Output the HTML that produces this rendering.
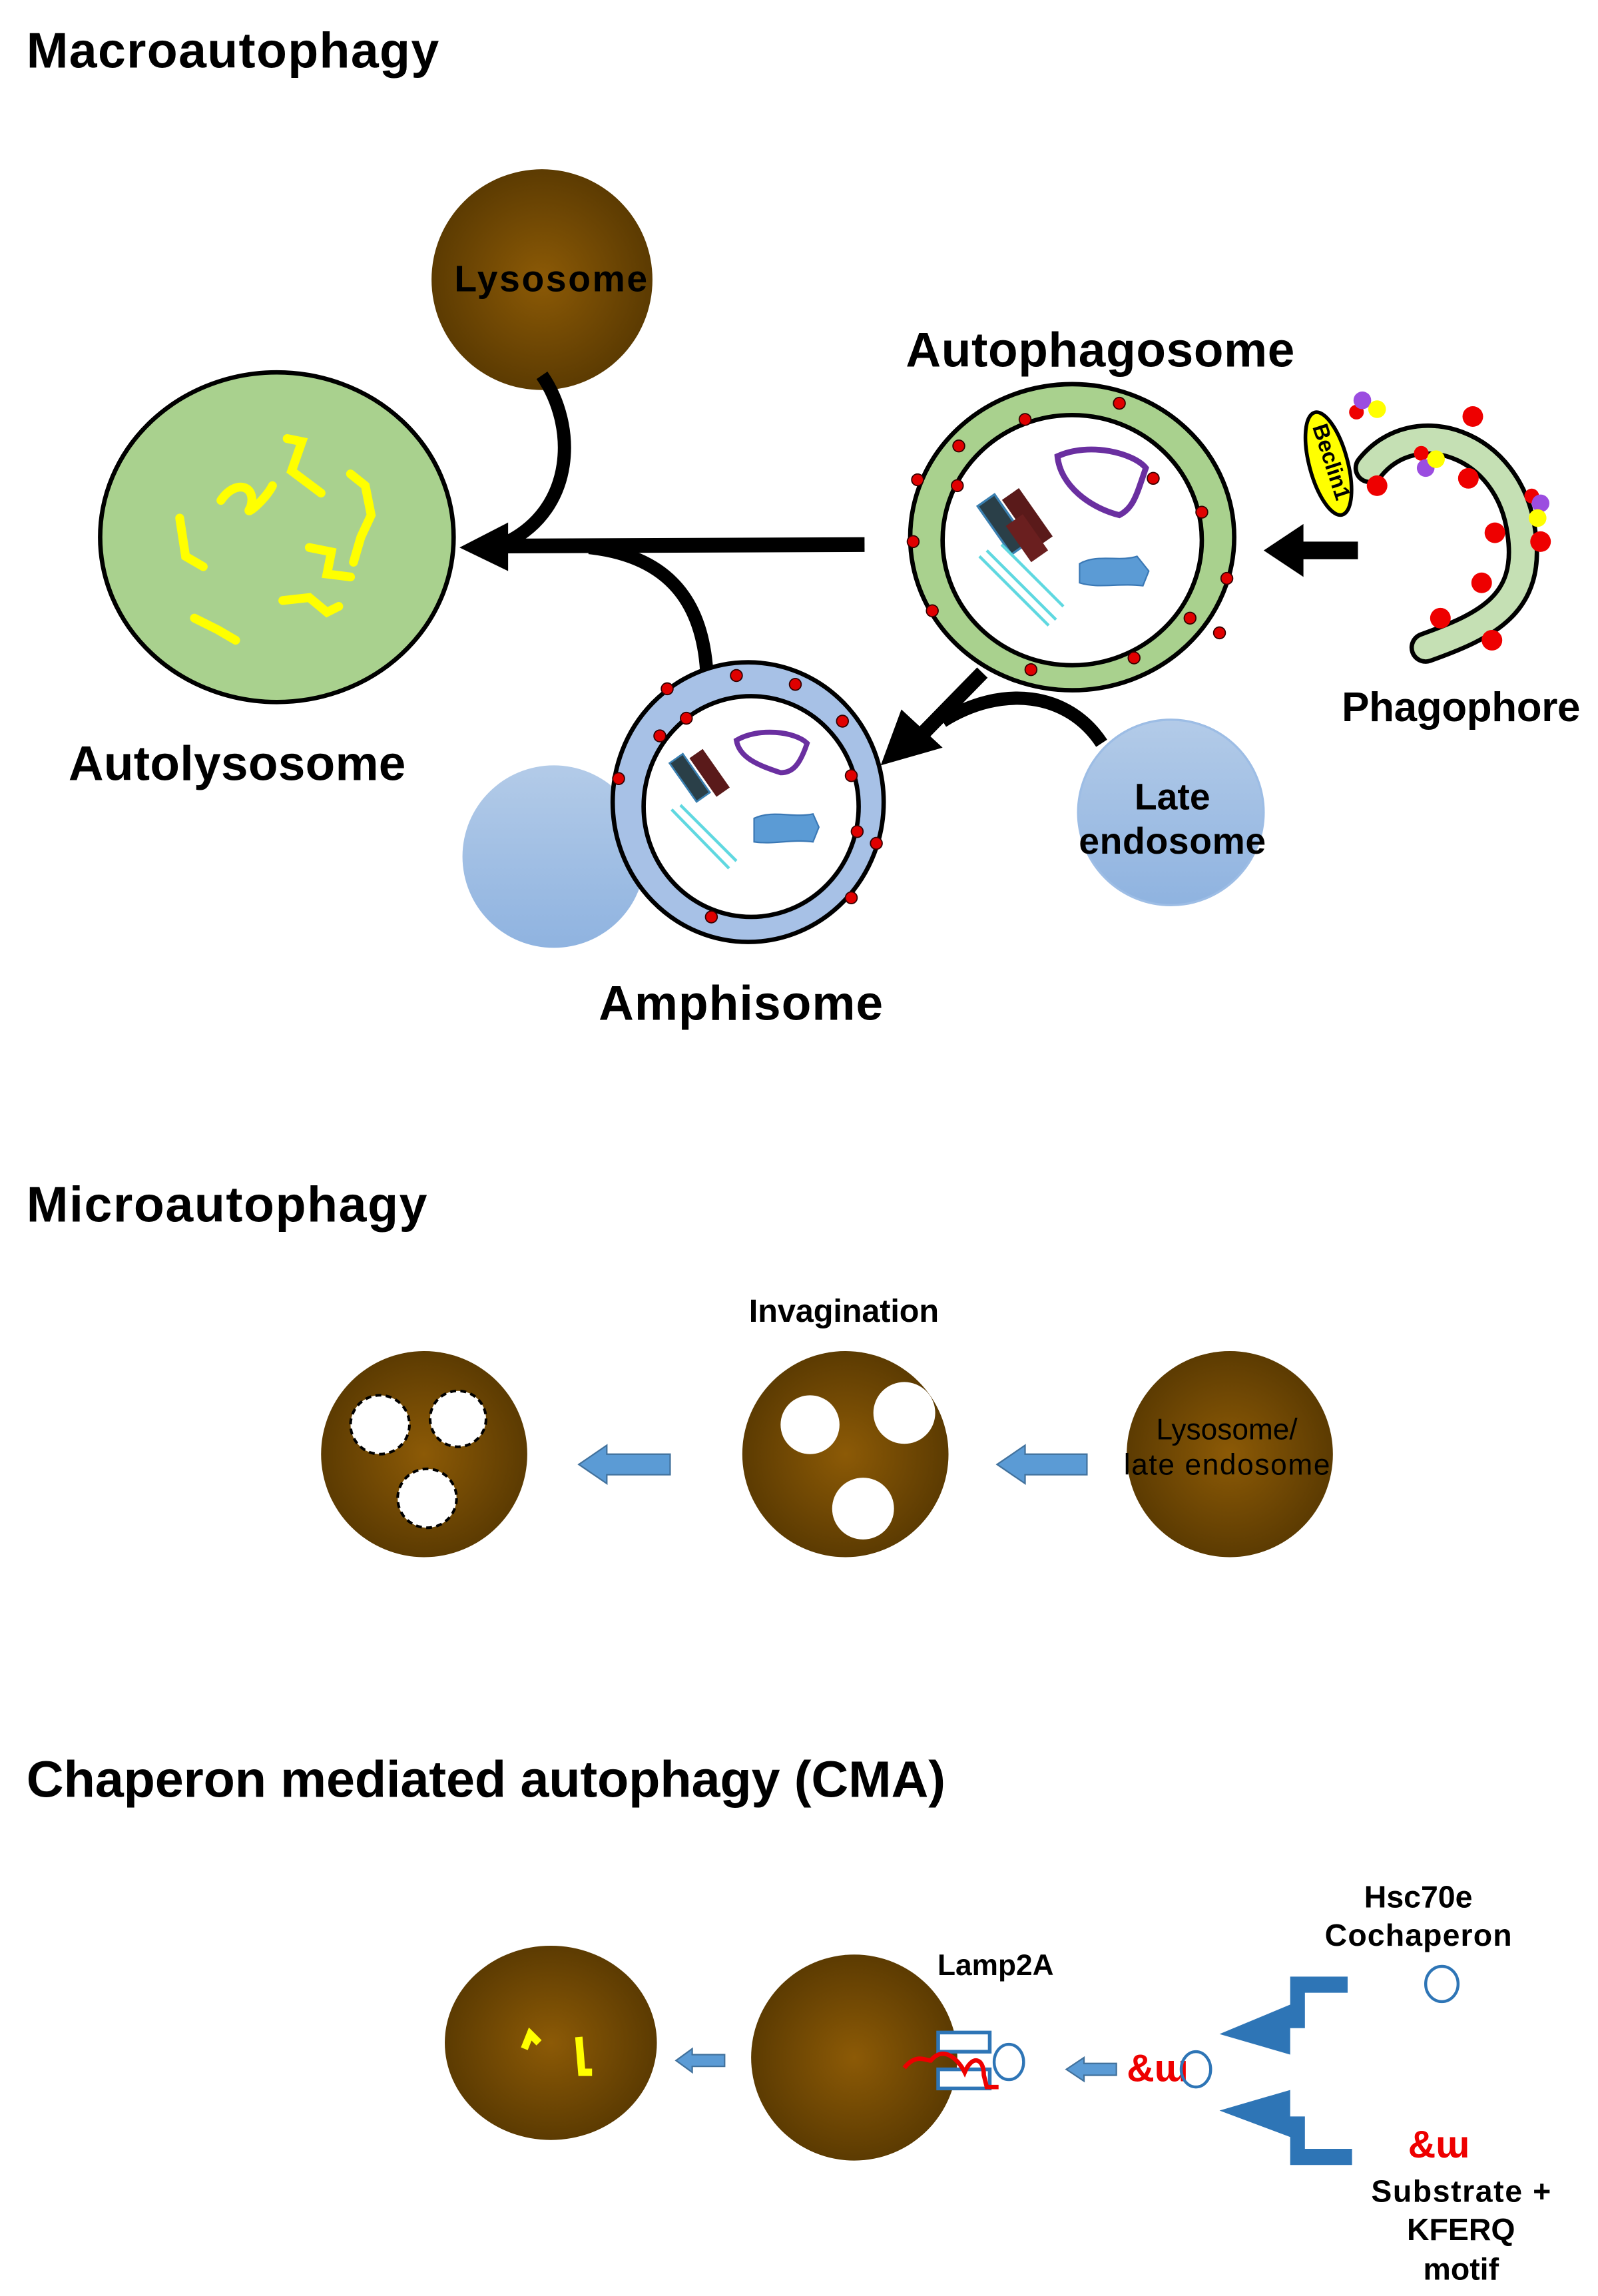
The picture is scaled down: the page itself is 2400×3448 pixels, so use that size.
<!DOCTYPE html>
<html><head><meta charset="utf-8"><style>
html,body{margin:0;padding:0;background:#fff;}
svg{display:block;}
text{font-family:"Liberation Sans",Arial,sans-serif;font-weight:bold;fill:#000;}
</style></head><body>
<svg width="2400" height="3448" viewBox="0 0 1085 1560" preserveAspectRatio="none" xmlns="http://www.w3.org/2000/svg">
<defs>
<radialGradient id="br" cx="50%" cy="50%" r="50%"><stop offset="0" stop-color="#8c5a06"/><stop offset="1" stop-color="#5c3b02"/></radialGradient>
<linearGradient id="lb" x1="0" y1="0" x2="0" y2="1"><stop offset="0" stop-color="#b3cbe8"/><stop offset="1" stop-color="#8fb3e0"/></linearGradient>
</defs>
<rect width="1085" height="1560" fill="#fff"/>

<text x="18" y="46" font-size="34" textLength="280">Macroautophagy</text>

<circle cx="368" cy="190" r="75" fill="url(#br)"/>
<text x="374" y="198" font-size="25" text-anchor="middle" textLength="131">Lysosome</text>

<ellipse cx="188" cy="365" rx="120" ry="112" fill="#a9d18e" stroke="#000" stroke-width="3"/>
<g fill="none" stroke="#ffff00" stroke-width="6" stroke-linecap="round">
<path d="M122,352 L126,378 L138,385"/>
<path d="M150,340 C160,325 175,330 170,345 C165,352 180,340 185,330"/>
<path d="M195,298 L205,300 L198,320 L218,335"/>
<path d="M238,322 L248,330 L252,350 L245,365 L240,382"/>
<path d="M210,372 L225,375 L222,390 L238,392"/>
<path d="M192,408 L210,406 L222,416 L230,412"/>
<path d="M132,420 L148,428 L160,435"/>
</g>
<text x="161" y="530" font-size="33" text-anchor="middle" textLength="229">Autolysosome</text>

<path d="M368,255 C392,290 390,345 345,368" fill="none" stroke="#000" stroke-width="9"/>
<path d="M480,460 C478,410 455,378 400,372" fill="none" stroke="#000" stroke-width="9"/>
<line x1="587" y1="370" x2="335" y2="371" stroke="#000" stroke-width="10"/>
<path d="M312,372 L345,355 L345,388 Z" fill="#000"/>

<text x="747" y="249" font-size="33" text-anchor="middle" textLength="264">Autophagosome</text>
<ellipse cx="728" cy="365" rx="110" ry="104" fill="#a9d18e" stroke="#000" stroke-width="3"/>
<ellipse cx="728" cy="367" rx="88" ry="85" fill="#fff" stroke="#000" stroke-width="3"/>
<g fill="#e00000" stroke="#300" stroke-width="0.8">
<circle cx="696" cy="285" r="4"/><circle cx="760" cy="274" r="4"/><circle cx="651" cy="303" r="4"/>
<circle cx="783" cy="325" r="4"/><circle cx="623" cy="326" r="4"/><circle cx="816" cy="348" r="4"/>
<circle cx="620" cy="368" r="4"/><circle cx="833" cy="393" r="4"/><circle cx="633" cy="415" r="4"/>
<circle cx="808" cy="420" r="4"/><circle cx="650" cy="330" r="4"/><circle cx="828" cy="430" r="4"/>
<circle cx="700" cy="455" r="4"/><circle cx="770" cy="447" r="4"/>
</g>
<path d="M718,310 C740,300 770,308 778,318 C772,335 770,345 760,350 C740,345 720,330 718,310 Z" fill="#fff" stroke="#6a2fa0" stroke-width="4"/>
<g transform="rotate(-35 690 350)">
<rect x="672" y="330" width="14" height="40" fill="#2a3f48" stroke="#3a7fb0" stroke-width="1.5"/>
<rect x="688" y="336" width="14" height="40" fill="#5a1a1a"/>
<rect x="680" y="352" width="14" height="30" fill="#6a1f1f"/>
</g>
<g stroke="#5fd8e0" stroke-width="2" fill="none">
<path d="M665,378 L712,425"/><path d="M670,374 L717,421"/><path d="M680,370 L722,412"/>
</g>
<path d="M733,383 C745,376 760,382 772,378 L780,388 L776,398 C760,396 745,400 733,396 Z" fill="#5b9bd5" stroke="#3a78b5" stroke-width="1"/>

<path d="M930,318 C960,280 1025,300 1033,362 C1040,410 1010,425 968,440" fill="none" stroke="#000" stroke-width="22" stroke-linecap="round"/>
<path d="M930,318 C960,280 1025,300 1033,362 C1040,410 1010,425 968,440" fill="none" stroke="#c5e0b4" stroke-width="16" stroke-linecap="round"/>
<g fill="#ee0000">
<circle cx="1000" cy="283" r="7"/><circle cx="935" cy="330" r="7"/><circle cx="997" cy="325" r="7"/>
<circle cx="1015" cy="362" r="7"/><circle cx="1046" cy="368" r="7"/><circle cx="1006" cy="396" r="7"/>
<circle cx="978" cy="420" r="7"/><circle cx="1013" cy="435" r="7"/><circle cx="1040" cy="337" r="5"/><circle cx="965" cy="308" r="5"/><circle cx="921" cy="280" r="5"/>
</g>
<g><circle cx="925" cy="272" r="6" fill="#9b4de0"/><circle cx="935" cy="278" r="6" fill="#ffff00"/>
<circle cx="968" cy="318" r="6" fill="#9b4de0"/><circle cx="975" cy="312" r="6" fill="#ffff00"/>
<circle cx="1046" cy="342" r="6" fill="#9b4de0"/><circle cx="1044" cy="352" r="6" fill="#ffff00"/></g>
<ellipse cx="902" cy="315" rx="13" ry="36" transform="rotate(-15 902 315)" fill="#ffff00" stroke="#000" stroke-width="2.5"/>
<text x="0" y="0" font-size="15" transform="translate(891,290) rotate(72)">Beclin1</text>
<text x="992" y="490" font-size="28" text-anchor="middle" textLength="162">Phagophore</text>
<line x1="922" y1="374" x2="880" y2="374" stroke="#000" stroke-width="12"/>
<path d="M858,374 L885,356 L885,392 Z" fill="#000"/>

<circle cx="376" cy="582" r="62" fill="url(#lb)"/>
<ellipse cx="508" cy="545" rx="92" ry="95" fill="#a7c1e6" stroke="#000" stroke-width="3"/>
<ellipse cx="510" cy="548" rx="73" ry="75" fill="#fff" stroke="#000" stroke-width="3"/>
<g fill="#e00000" stroke="#300" stroke-width="0.8">
<circle cx="453" cy="468" r="4"/><circle cx="500" cy="459" r="4"/><circle cx="540" cy="465" r="4"/>
<circle cx="466" cy="488" r="4"/><circle cx="572" cy="490" r="4"/><circle cx="420" cy="529" r="4"/>
<circle cx="578" cy="527" r="4"/><circle cx="582" cy="565" r="4"/><circle cx="595" cy="573" r="4"/>
<circle cx="578" cy="610" r="4"/><circle cx="483" cy="623" r="4"/><circle cx="448" cy="500" r="4"/>
</g>
<path d="M500,503 C515,494 540,497 548,505 C543,520 538,525 530,525 C515,520 502,515 500,503 Z" fill="#fff" stroke="#6a2fa0" stroke-width="3.5"/>
<g transform="rotate(-35 475 525)">
<rect x="462" y="508" width="11" height="32" fill="#2a3f48" stroke="#3a7fb0" stroke-width="1.2"/>
<rect x="475" y="513" width="11" height="32" fill="#5a1a1a"/>
</g>
<g stroke="#5fd8e0" stroke-width="2" fill="none"><path d="M456,550 L495,590"/><path d="M462,547 L500,585"/></g>
<path d="M512,556 C525,550 538,556 552,553 L556,562 L552,572 C538,570 525,574 512,572 Z" fill="#5b9bd5" stroke="#3a78b5" stroke-width="1"/>
<text x="503" y="693" font-size="33" text-anchor="middle" textLength="193">Amphisome</text>

<circle cx="795" cy="552" r="63" fill="url(#lb)" stroke="#9dbde5" stroke-width="1.5"/>
<text x="796" y="550" font-size="25" text-anchor="middle">Late</text>
<text x="796" y="580" font-size="25" text-anchor="middle" textLength="127">endosome</text>

<path d="M748,505 C725,470 680,465 640,490" fill="none" stroke="#000" stroke-width="9"/>
<line x1="667" y1="457" x2="625" y2="500" stroke="#000" stroke-width="10"/>
<path d="M598,520 L612,482 L640,508 Z" fill="#000"/>

<text x="18" y="830" font-size="34" textLength="272">Microautophagy</text>
<text x="573" y="898" font-size="22" text-anchor="middle" textLength="129">Invagination</text>
<circle cx="288" cy="988" r="70" fill="url(#br)"/>
<circle cx="574" cy="988" r="70" fill="url(#br)"/>
<circle cx="835" cy="988" r="70" fill="url(#br)"/>
<g fill="#fff" stroke="#000" stroke-width="1.8" stroke-dasharray="4 3">
<circle cx="258" cy="968" r="20"/><circle cx="311" cy="964" r="19"/><circle cx="290" cy="1018" r="20"/>
</g>
<g fill="#fff"><circle cx="550" cy="968" r="20"/><circle cx="614" cy="960" r="21"/><circle cx="586" cy="1025" r="21"/></g>
<text x="833" y="978" font-size="20" text-anchor="middle" style="font-weight:normal">Lysosome/</text>
<text x="833" y="1002" font-size="20" text-anchor="middle" style="font-weight:normal" textLength="140">late endosome</text>
<g fill="#5b9bd5" stroke="#41719c" stroke-width="1">
<path d="M393,995 L412,982 L412,988 L455,988 L455,1002 L412,1002 L412,1008 Z"/>
<path d="M677,995 L696,982 L696,988 L738,988 L738,1002 L696,1002 L696,1008 Z"/>
</g>

<text x="18" y="1221" font-size="35" textLength="624">Chaperon mediated autophagy (CMA)</text>
<ellipse cx="374" cy="1388" rx="72" ry="66" fill="url(#br)"/>
<ellipse cx="580" cy="1398" rx="70" ry="70" fill="url(#br)"/>
<g fill="none" stroke="#ffff00" stroke-width="5"><path d="M356,1392 L360,1382 L366,1388"/><path d="M393,1384 L395,1408 L402,1408"/></g>
<text x="676" y="1342" font-size="20" text-anchor="middle">Lamp2A</text>
<rect x="637" y="1381" width="35" height="13" fill="#fff" stroke="#2e75b6" stroke-width="2.5"/>
<rect x="637" y="1406" width="35" height="13" fill="#fff" stroke="#2e75b6" stroke-width="2.5"/>
<path d="M614,1405 C622,1395 628,1400 632,1400 C640,1390 650,1398 655,1408 C660,1396 668,1398 668,1410 L670,1418 L678,1418" fill="none" stroke="#ee0000" stroke-width="3"/>
<ellipse cx="685" cy="1401" rx="10" ry="12" fill="none" stroke="#2e75b6" stroke-width="2"/>
<text x="786" y="1414" font-size="26" style="fill:#ee0000" text-anchor="middle">&amp;ɯ</text>
<ellipse cx="812" cy="1406" rx="10" ry="12" fill="none" stroke="#2e75b6" stroke-width="2"/>
<ellipse cx="979" cy="1348" rx="11" ry="12" fill="none" stroke="#2e75b6" stroke-width="2"/>
<text x="977" y="1466" font-size="26" style="fill:#ee0000" text-anchor="middle">&amp;ɯ</text>
<g fill="#5b9bd5" stroke="#41719c" stroke-width="1">
<path d="M459,1400 L470,1392 L470,1396 L492,1396 L492,1404 L470,1404 L470,1408 Z"/>
<path d="M724,1406 L736,1398 L736,1402 L758,1402 L758,1410 L736,1410 L736,1414 Z"/>
</g>
<g fill="#2e75b6">
<path d="M915,1343 L915,1354 L886,1354 L886,1378 L876,1378 L876,1396 L828,1382 L876,1362 L876,1343 Z"/>
<path d="M918,1471 L918,1460 L886,1460 L886,1438 L876,1438 L876,1420 L828,1434 L876,1452 L876,1471 Z"/>
</g>
<text x="963" y="1296" font-size="21" text-anchor="middle">Hsc70e</text>
<text x="963" y="1322" font-size="21" text-anchor="middle" textLength="127">Cochaperon</text>
<text x="992" y="1496" font-size="21" text-anchor="middle" textLength="122">Substrate +</text>
<text x="992" y="1522" font-size="21" text-anchor="middle">KFERQ</text>
<text x="992" y="1549" font-size="21" text-anchor="middle">motif</text>
</svg>
</body></html>
